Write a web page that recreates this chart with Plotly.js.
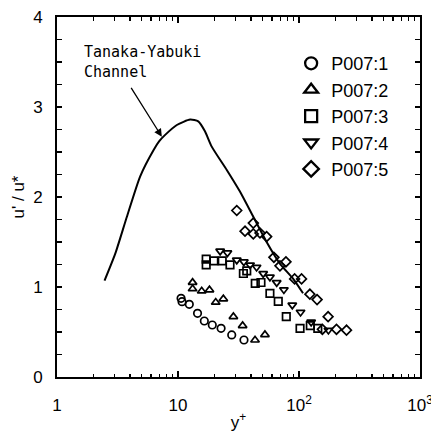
<!DOCTYPE html>
<html><head><meta charset="utf-8">
<script src="https://cdn.plot.ly/plotly-3.0.1.min.js"></script>
<style>html,body{margin:0;padding:0;background:#fff}#c{width:431px;height:432px}</style>
</head><body><div id="c"></div>
<script>
// Tanaka-Yabuki channel curve
const curveX = [2.47, 3.03, 3.78, 4.87, 6.27, 7.0, 7.83, 9.78, 12.6, 14.7, 16.7, 19.0, 25.3, 32.5, 41.9, 54, 69.5, 89.6, 108];
const curveY = [1.07, 1.37, 1.78, 2.23, 2.52, 2.62, 2.69, 2.80, 2.86, 2.84, 2.73, 2.56, 2.30, 2.06, 1.78, 1.50, 1.26, 1.09, 0.93];

// P007:1 (circles)
const p1X = [10.6, 10.8, 12.4, 14.5, 16.5, 19.2, 22.7, 27.8, 35.1];
const p1Y = [0.874, 0.837, 0.808, 0.708, 0.622, 0.578, 0.541, 0.467, 0.411];
// P007:2 (triangles up)
const p2X = [13.2, 13.2, 15.7, 18.2, 20.5, 23.7, 28.7, 34.2, 43.3, 52.3];
const p2Y = [1.05, 0.98, 0.955, 0.967, 0.83, 0.867, 0.67, 0.57, 0.41, 0.47];
// P007:3 (squares)
const p3X = [17.1, 17.1, 19.8, 23.2, 26.9, 34.7, 37.0, 43.5, 48.5, 57.5, 67.4, 78.5, 102, 124, 143];
const p3Y = [1.31, 1.245, 1.29, 1.29, 1.245, 1.15, 1.18, 1.04, 1.05, 0.93, 0.84, 0.67, 0.54, 0.57, 0.54];
// P007:4 (triangles down)
const p4X = [22.3, 25.6, 30.6, 35, 39.4, 44.6, 50.6, 57.5, 65.4, 75, 88, 103, 126, 175];
const p4Y = [1.40, 1.38, 1.30, 1.28, 1.245, 1.22, 1.15, 1.11, 1.05, 0.97, 0.80, 0.72, 0.61, 0.52];
// P007:5 (diamonds)
const p5X = [30.6, 41.9, 35.8, 41.9, 47.6, 54, 62, 78, 69.6, 92, 105, 123, 141, 174, 156, 204, 247];
const p5Y = [1.85, 1.71, 1.62, 1.59, 1.60, 1.56, 1.33, 1.28, 1.235, 1.09, 1.09, 0.92, 0.86, 0.67, 0.53, 0.53, 0.52];

const seriesNames = ['P007:1', 'P007:2', 'P007:3', 'P007:4', 'P007:5'];
const seriesX = [p1X, p2X, p3X, p4X, p5X];
const seriesY = [p1Y, p2Y, p3Y, p4Y, p5Y];
const symbols = ['circle-open', 'triangle-up-open', 'square-open', 'triangle-down-open', 'diamond-open'];

const xTickVals = [1, 10, 100, 1000];
const xTickText = ['1', '10', '10<sup>2</sup>', '10<sup>3</sup>'];
const yTickVals = [0, 1, 2, 3, 4];

const traces = [{
  x: curveX, y: curveY, mode: 'lines', type: 'scatter', showlegend: false,
  line: {color: '#000', width: 2, shape: 'spline', smoothing: 0.6}
}];
seriesNames.forEach((n, i) => {
  traces.push({x: seriesX[i], y: seriesY[i], mode: 'markers', type: 'scatter', showlegend: false,
    marker: {symbol: symbols[i], size: 7.5, color: '#000', line: {color: '#000', width: 1.7}}});
});
seriesNames.forEach((n, i) => {
  traces.push({x: [null], y: [null], mode: 'markers', type: 'scatter', name: n,
    marker: {symbol: symbols[i], size: 12, color: '#000', line: {color: '#000', width: 2.3}}});
});

const font = {family: 'Liberation Sans, Arial, sans-serif', size: 17, color: '#000'};
const layout = {
  width: 431, height: 432,
  margin: {l: 57, r: 11, t: 17, b: 55},
  paper_bgcolor: '#fff', plot_bgcolor: '#fff',
  font: font,
  showlegend: true,
  legend: {x: 0.645, y: 0.922, xanchor: 'left', yanchor: 'top', bgcolor: 'rgba(0,0,0,0)',
    font: {family: 'Liberation Sans, Arial, sans-serif', size: 18, color: '#000'}},
  xaxis: {
    type: 'log', range: [0, 3], tickvals: xTickVals, ticktext: xTickText,
    ticks: 'inside', ticklen: 6, tickwidth: 1.6, tickcolor: '#000',
    minor: {ticks: 'inside', ticklen: 3.5, tickwidth: 1.4, tickcolor: '#000', dtick: 'D1', showgrid: false},
    showline: true, linecolor: '#000', linewidth: 2, mirror: 'allticks',
    showgrid: false, zeroline: false, ticklabelstandoff: 12, ticklabeloverflow: 'allow',
    title: {text: 'y<sup>+</sup>', font: font, standoff: 2}
  },
  yaxis: {
    range: [0, 4], tickvals: yTickVals,
    ticks: 'inside', ticklen: 5, tickwidth: 1.6, tickcolor: '#000',
    minor: {ticks: 'inside', ticklen: 5, tickwidth: 1.4, tickcolor: '#000', dtick: 0.25, showgrid: false},
    showline: true, linecolor: '#000', linewidth: 2, mirror: 'allticks',
    showgrid: false, zeroline: false, ticklabelstandoff: 9,
    title: {text: "u' / u*", font: font, standoff: 4}
  },
  annotations: [
    {xref: 'x', yref: 'y', axref: 'x', ayref: 'y',
     x: Math.log10(7.35), y: 2.67, ax: Math.log10(4.03), ay: 3.23,
     text: '', showarrow: true, arrowhead: 2, arrowsize: 1.2, arrowwidth: 1.3, arrowcolor: '#000'},
    {xref: 'x', yref: 'y', x: Math.log10(1.6), y: 3.5, xanchor: 'left', yanchor: 'middle', align: 'left',
     showarrow: false, text: 'Tanaka-Yabuki<br>Channel',
     font: {family: 'DejaVu Sans Mono, monospace', size: 15, color: '#000'}}
  ]
};
Plotly.newPlot('c', traces, layout, {displayModeBar: false, staticPlot: true});
</script></body></html>
